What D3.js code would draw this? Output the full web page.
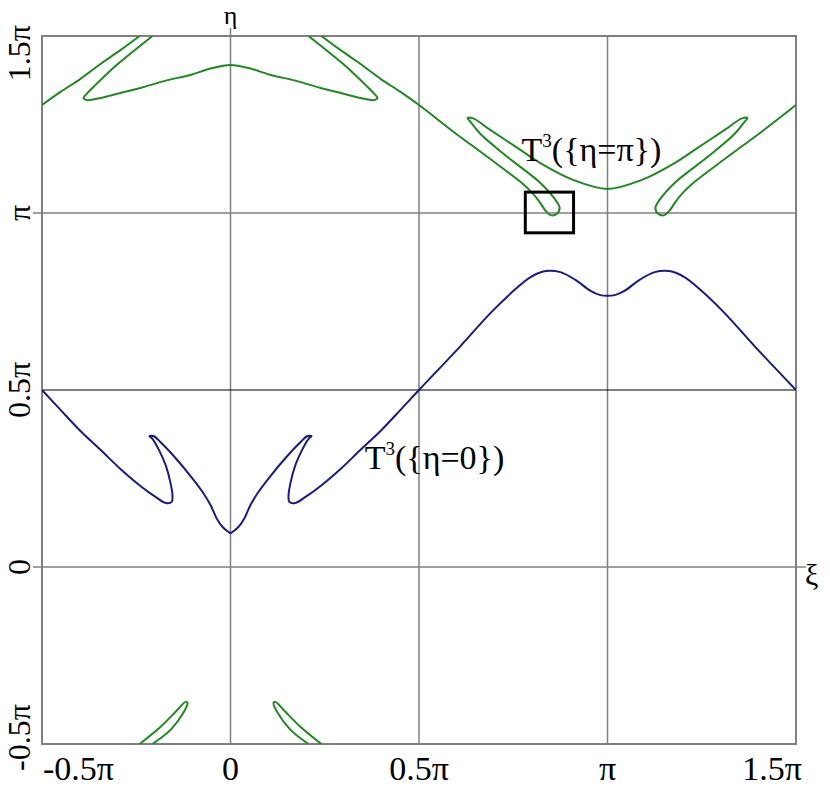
<!DOCTYPE html>
<html><head><meta charset="utf-8">
<script src="https://cdn.jsdelivr.net/npm/d3@7"></script>
<style>body{margin:0;background:#fff}svg{display:block}</style>
</head><body>
<svg id="chart" width="830" height="789"></svg>
<script>
// All values in units of π: [ξ/π, η/π]
const xTicks = [-0.5, 0, 0.5, 1, 1.5];
const yTicks = [-0.5, 0, 0.5, 1, 1.5];
const tickLabels = ["-0.5π", "0", "0.5π", "π", "1.5π"];

// T^3({η=0}) — blue curve
const blueCurve = [
 [-0.5,0.5],[-0.451,0.444],[-0.398,0.384],[-0.345,0.331],[-0.292,0.277],[-0.239,0.229],[-0.199,0.198],[-0.172,0.181],
 [-0.156,0.184],[-0.154,0.203],[-0.159,0.237],[-0.172,0.288],[-0.191,0.333],[-0.207,0.362],[-0.215,0.370],[-0.204,0.370],
 [-0.186,0.353],[-0.146,0.308],[-0.106,0.257],[-0.074,0.212],[-0.053,0.175],[-0.037,0.138],[-0.021,0.113],[-0.005,0.099],[0,0.096],
 [0.005,0.099],[0.021,0.113],[0.037,0.138],[0.053,0.175],[0.074,0.212],[0.106,0.257],[0.146,0.308],[0.186,0.353],[0.204,0.370],
 [0.215,0.370],[0.207,0.362],[0.191,0.333],[0.172,0.288],[0.159,0.237],[0.154,0.203],[0.156,0.184],[0.172,0.181],[0.199,0.198],
 [0.239,0.229],[0.292,0.277],[0.345,0.331],[0.398,0.384],[0.451,0.444],[0.5,0.5],
 [0.610,0.624],[0.690,0.718],[0.756,0.785],[0.796,0.819],[0.836,0.836],[0.875,0.833],[0.915,0.811],[0.955,0.780],[0.981,0.768],[1.0,0.766],
 [1.019,0.768],[1.045,0.780],[1.085,0.811],[1.125,0.833],[1.164,0.836],[1.204,0.819],[1.244,0.785],[1.310,0.718],[1.390,0.624],[1.5,0.5]
];

// T^3({η=π}) — green curve, split where it wraps across the window edges
const greenA = [[-0.5,1.305],[-0.451,1.342],[-0.398,1.379],[-0.345,1.421],[-0.292,1.460],[-0.241,1.5]];
const greenB = [[-0.241,-0.5],[-0.186,-0.452],[-0.141,-0.404],[-0.119,-0.381],[-0.114,-0.384],[-0.125,-0.412],[-0.159,-0.460],[-0.207,-0.5]];
const greenC = [
 [-0.207,1.5],[-0.247,1.466],[-0.292,1.427],[-0.326,1.395],[-0.358,1.362],[-0.382,1.336],[-0.390,1.325],[-0.382,1.319],[-0.358,1.322],
 [-0.292,1.339],[-0.239,1.353],[-0.172,1.374],[-0.106,1.390],[-0.053,1.408],[0,1.418],[0.053,1.408],[0.106,1.390],[0.172,1.374],
 [0.239,1.353],[0.292,1.339],[0.358,1.322],[0.382,1.319],[0.390,1.325],[0.382,1.336],[0.358,1.362],[0.326,1.395],[0.292,1.427],
 [0.247,1.466],[0.207,1.5]
];
const greenD = [[0.207,-0.5],[0.159,-0.460],[0.125,-0.412],[0.114,-0.384],[0.119,-0.381],[0.141,-0.404],[0.186,-0.452],[0.241,-0.5]];
const greenE = [
 [0.241,1.5],[0.292,1.460],[0.345,1.421],[0.398,1.379],[0.451,1.342],[0.5,1.305],[0.592,1.229],[0.682,1.158],[0.769,1.088],
 [0.801,1.056],[0.822,1.028],[0.836,1.006],[0.849,0.994],[0.865,0.997],[0.873,1.014],[0.862,1.037],[0.822,1.085],[0.735,1.158],
 [0.663,1.223],[0.637,1.257],[0.629,1.268],[0.642,1.268],[0.690,1.234],[0.761,1.184],[0.822,1.141],[0.910,1.093],[1.0,1.068],
 [1.090,1.093],[1.178,1.141],[1.239,1.184],[1.310,1.234],[1.358,1.268],[1.371,1.268],[1.363,1.257],[1.337,1.223],[1.265,1.158],
 [1.178,1.085],[1.138,1.037],[1.127,1.014],[1.135,0.997],[1.151,0.994],[1.164,1.006],[1.178,1.028],[1.199,1.056],[1.231,1.088],
 [1.318,1.158],[1.408,1.229],[1.5,1.305]
];
const greenSegments = [greenA, greenB, greenC, greenD, greenE];
const boxRegion = [0.782, 0.910, 0.944, 1.059]; // ξ0, ξ1, η0, η1

const svg = d3.select("#chart");
const L = 42, R = 796, T = 36, B = 744;
const x = d3.scaleLinear().domain([-0.5, 1.5]).range([L, R]);
const y = d3.scaleLinear().domain([-0.5, 1.5]).range([B, T]);
const font = "'Liberation Serif','Times New Roman',serif";
const gridGray = "#808080";

svg.append("defs").append("clipPath").attr("id","clip")
  .append("rect").attr("x",L).attr("y",T).attr("width",R-L).attr("height",B-T);

// grid lines
[0, 0.5, 1].forEach(v => {
  svg.append("line").attr("x1", x(v)).attr("x2", x(v)).attr("y1", v === 0 ? T - 8 : T).attr("y2", B)
    .attr("stroke", gridGray).attr("stroke-width", 1.5);
});
[0, 1].forEach(v => {
  svg.append("line").attr("x1", L - 9).attr("x2", v === 0 ? R + 10 : R).attr("y1", y(v)).attr("y2", y(v))
    .attr("stroke", gridGray).attr("stroke-width", 1.5);
});
svg.append("line").attr("x1", L).attr("x2", R).attr("y1", y(0.5)).attr("y2", y(0.5))
  .attr("stroke", "#000").attr("stroke-width", 1);

// frame
svg.append("rect").attr("x", L).attr("y", T).attr("width", R - L).attr("height", B - T)
  .attr("fill", "none").attr("stroke", gridGray).attr("stroke-width", 2);

const line = d3.line().x(d => x(d[0])).y(d => y(d[1])).curve(d3.curveCatmullRom.alpha(0.5));
const g = svg.append("g").attr("clip-path", "url(#clip)");
g.append("path").datum(blueCurve).attr("d", line).attr("fill","none").attr("stroke","#1a1a8a").attr("stroke-width",2);
greenSegments.forEach(s => g.append("path").datum(s).attr("d", line).attr("fill","none").attr("stroke","#1f8a1f").attr("stroke-width",2));

// box
svg.append("rect").attr("x", x(boxRegion[0])).attr("y", y(boxRegion[3]))
  .attr("width", x(boxRegion[1]) - x(boxRegion[0])).attr("height", y(boxRegion[2]) - y(boxRegion[3]))
  .attr("fill","none").attr("stroke","#000").attr("stroke-width",3);

// x tick labels
xTicks.forEach((v, i) => {
  const anchor = i === 0 ? "start" : (i === xTicks.length - 1 ? "end" : "middle");
  const xx = i === 0 ? L + 1 : (i === xTicks.length - 1 ? R + 6 : x(v));
  svg.append("text").attr("x", xx).attr("y", 780).attr("text-anchor", anchor)
    .attr("font-family", font).attr("font-size", 34).text(tickLabels[i]);
});
// y tick labels (rotated)
yTicks.forEach((v, i) => {
  const anchor = i === 0 ? "start" : (i === yTicks.length - 1 ? "end" : "middle");
  const yy = i === 0 ? 771 : (i === yTicks.length - 1 ? 25 : y(v));
  svg.append("text").attr("transform", `translate(30,${yy}) rotate(-90)`).attr("text-anchor", anchor)
    .attr("font-family", font).attr("font-size", 32).text(tickLabels[i]);
});

// axis names
svg.append("text").attr("x", x(0)).attr("y", 24).attr("text-anchor","middle")
  .attr("font-family", font).attr("font-size", 26).text("η");
svg.append("text").attr("x", 805).attr("y", 585).attr("text-anchor","start")
  .attr("font-family", font).attr("font-size", 30).text("ξ");

// curve annotations
function annot(px, py, inner) {
  const t = svg.append("text").attr("x", px).attr("y", py).attr("font-family", font).attr("font-size", 34);
  t.append("tspan").text("T");
  t.append("tspan").attr("dy", -14).attr("font-size", 19).text("3");
  t.append("tspan").attr("dy", 14).text("({" + inner + "})");
}
annot(x(0.772), y(1.147), "η=π");
annot(x(0.356), y(0.277), "η=0");
</script>
</body></html>
